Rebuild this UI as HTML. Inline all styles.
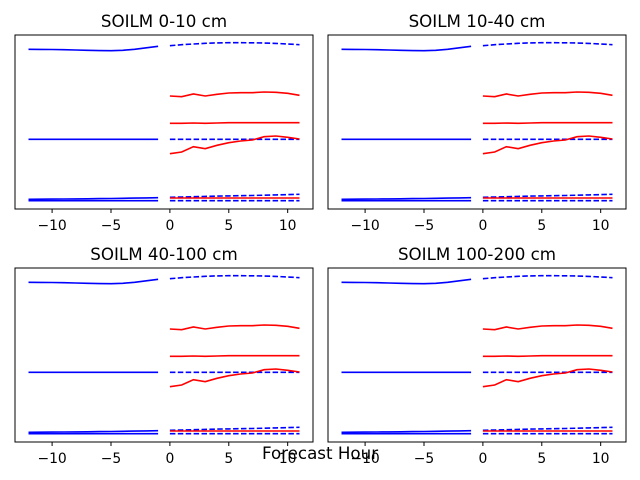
<!DOCTYPE html>
<html><head><meta charset="utf-8"><style>
body{margin:0;background:#fff}
svg{display:block;font-family:"DejaVu Sans","Liberation Sans",sans-serif}
</style></head><body>
<svg id="fig" width="640" height="480"></svg>
<script>
const panelTitles=["SOILM 0-10 cm","SOILM 10-40 cm","SOILM 40-100 cm","SOILM 100-200 cm"];
const xTicks=[-10,-5,0,5,10];
const pastHours=[-12,-11,-10,-9,-8,-7,-6,-5,-4,-3,-2,-1];
const fcstHours=[0,1,2,3,4,5,6,7,8,9,10,11];
const pastTop=[159.7,159.6,159.5,159.3,159.0,158.7,158.4,158.3,158.7,159.7,161.2,162.7];
const pastMid=[69.7,69.7,69.7,69.7,69.7,69.7,69.7,69.7,69.7,69.7,69.7,69.7];
const pastLow1=[8.3,8.3,8.3,8.3,8.3,8.3,8.3,8.3,8.3,8.3,8.3,8.3];
const pastLow2=[9.7,9.8,9.9,10.0,10.1,10.2,10.4,10.5,10.7,10.9,11.1,11.3];
const fcstTop=[163.3,164.3,165.0,165.7,166.1,166.3,166.3,166.2,166.0,165.6,165.0,164.3];
const fcstMid=[69.7,69.7,69.7,69.7,69.7,69.7,69.7,69.7,69.7,69.7,69.7,69.7];
const fcstLow1=[8.3,8.3,8.3,8.3,8.3,8.3,8.3,8.3,8.3,8.3,8.3,8.3];
const fcstLow2=[11.7,12.0,12.3,12.6,12.9,13.1,13.3,13.5,13.8,14.1,14.4,14.7];
const redTop=[113,112.3,115,113,114.7,116,116.3,116.3,117,116.7,115.7,113.7];
const redMid=[85.7,85.7,86,85.7,86,86.3,86.3,86.3,86.3,86.3,86.3,86.3];
const redLow=[55.3,57,62.3,60.3,63.7,66.3,68,69,72.3,73,71.7,70];
const redBot=[11,11,11,11,11,11,11,11,11,11,11,11];
const NS="http://www.w3.org/2000/svg";
const fig=document.getElementById('fig');
function mk(tag,attrs,parent){const e=document.createElementNS(NS,tag);for(const k in attrs)e.setAttribute(k,attrs[k]);(parent||fig).appendChild(e);return e;}
const boxes=[[15,35],[328,35],[15,268],[328,268]];
const W=298,H=174,xmin=-13.15,xmax=12.15,ymin=0,ymax=174;
boxes.forEach((b,i)=>{
  const g=mk('g',{});
  
  
  const sx=v=>b[0]+(v-xmin)/(xmax-xmin)*W;
  const sy=v=>b[1]+H-(v-ymin)/(ymax-ymin)*H;
  const t=mk('text',{x:b[0]+W/2,y:b[1]-8,'text-anchor':'middle','font-size':'16.7'},g);
  t.textContent=panelTitles[i];
  
  
  const series=[[pastHours,pastTop,'blue',''],[pastHours,pastMid,'blue',''],[pastHours,pastLow1,'blue',''],[pastHours,pastLow2,'blue',''],
    [fcstHours,fcstTop,'blue','5.5,2.4'],[fcstHours,fcstMid,'blue','5.5,2.4'],[fcstHours,fcstLow1,'blue','5.5,2.4'],[fcstHours,fcstLow2,'blue','5.5,2.4'],
    [fcstHours,redTop,'red',''],[fcstHours,redMid,'red',''],[fcstHours,redLow,'red',''],[fcstHours,redBot,'red','']];
  series.forEach((s,j)=>{
    const pts=s[0].map((h,k)=>sx(h).toFixed(1)+','+sy(s[1][k]).toFixed(1)).join(' ');
    const a={points:pts,fill:'none',stroke:s[2],'stroke-width':'1.6'};
    if(s[3])a['stroke-dasharray']=s[3];
    const p=mk('polyline',a,g);
    
    
  });
  const r=mk('rect',{x:b[0],y:b[1],width:W,height:H,fill:'none',stroke:'#000','stroke-width':'1'},g);
  
  
  xTicks.forEach(v=>{
    const x=sx(v);
    const tk=mk('line',{x1:x,x2:x,y1:b[1]+H,y2:b[1]+H+4,stroke:'#000'},g);
    
    
    const l=mk('text',{x:x,y:b[1]+H+21,'text-anchor':'middle','font-size':'13.9'},g);
    l.textContent=v<0?'\u2212'+(-v):String(v);
    
    
  });
});
const xl=mk('text',{x:320,y:459,'text-anchor':'middle','font-size':'16.7'});
xl.textContent='Forecast Hour';


</script>
</body></html>
